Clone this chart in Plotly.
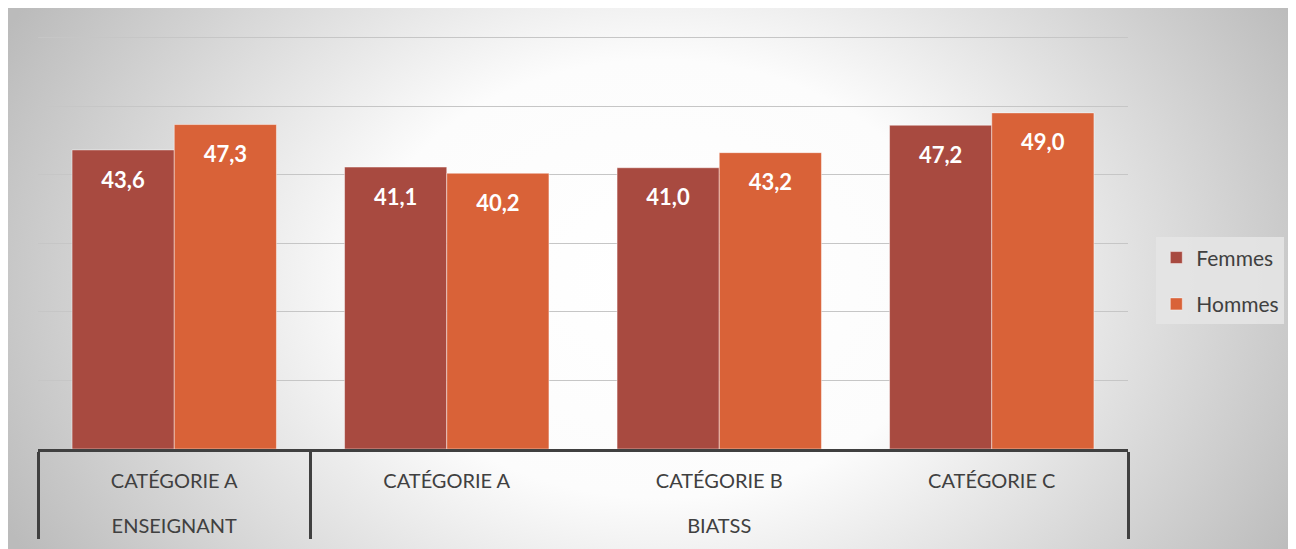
import base64
import plotly.graph_objects as go

# Âge moyen par population, catégorie et genre
populations = ["ENSEIGNANT", "BIATSS", "BIATSS", "BIATSS"]
categories = ["CATÉGORIE A", "CATÉGORIE A", "CATÉGORIE B", "CATÉGORIE C"]
femmes = [43.6, 41.1, 41.0, 47.2]
hommes = [47.3, 40.2, 43.2, 49.0]

police = "Lato"
gris_texte = "#404040"

# fond en dégradé radial (style Office)
svg = """<svg xmlns='http://www.w3.org/2000/svg' width='400' height='200' viewBox='0 0 400 200' preserveAspectRatio='none'>
<defs><radialGradient id='g' cx='0.5' cy='0.5' r='0.5'
 gradientTransform='translate(0.5 0.5) scale(1.12 2) translate(-0.5 -0.5)'>
<stop offset='0' stop-color='#ffffff'/><stop offset='0.4' stop-color='#fcfcfc'/>
<stop offset='1' stop-color='#bbbbbb'/></radialGradient></defs>
<rect width='400' height='200' fill='url(#g)'/></svg>"""
fond = "data:image/svg+xml;base64," + base64.b64encode(svg.encode()).decode()

# ligne vide sous l'étiquette intérieure pour espacer les deux niveaux
x_labels = [populations,
            [c + "<br><span style='font-size:40px'> </span>" for c in categories]]

fig = go.Figure()
for nom, valeurs, couleur, groupe in [("Femmes", femmes, "#A84A40", "f"),
                                      ("Hommes", hommes, "#D96238", "h")]:
    fig.add_trace(go.Bar(
        x=x_labels, y=valeurs, name=nom, legendgroup=groupe,
        marker=dict(color=couleur, line=dict(color="rgba(255,255,255,0.45)", width=1)),
        texttemplate="<span style='font-size:6px'> </span><br>%{y:.1f}",
        textposition="inside", insidetextanchor="end", textangle=0,
        textfont=dict(family=police, size=22, color="white", weight="bold"),
    ))

fig.add_layout_image(dict(
    source=fond, xref="paper", yref="paper", x=-0.03, y=1.07,
    sizex=1.2, sizey=1.32, sizing="stretch", layer="below",
    xanchor="left", yanchor="top",
))

fig.update_layout(
    width=1288, height=541,
    margin=dict(l=30, r=163, t=26, b=100),
    paper_bgcolor="white", plot_bgcolor="rgba(0,0,0,0)",
    separators=", ",
    barmode="group", bargap=0.25, bargroupgap=0,
    font=dict(family=police, size=20, color=gris_texte),
    showlegend=True,
    legend=dict(x=1.1434, y=0.405, xanchor="right", yanchor="middle",
                bgcolor="rgba(228,228,228,0.9)", tracegroupgap=16,
                font=dict(size=21, color=gris_texte)),
)
fig.update_xaxes(
    type="multicategory", automargin=False,
    showline=True, linecolor="#404040", linewidth=3,
    showdividers=True, dividercolor="#404040", dividerwidth=3,
    ticks="", ticklabelstandoff=12,
    tickfont=dict(family=police, size=20, color=gris_texte),
)
fig.update_yaxes(
    range=[0, 60.5], dtick=10, showticklabels=False, zeroline=False,
    automargin=False, showgrid=True, gridcolor="#c6c6c6", gridwidth=1,
)

fig.write_html("out.html")
